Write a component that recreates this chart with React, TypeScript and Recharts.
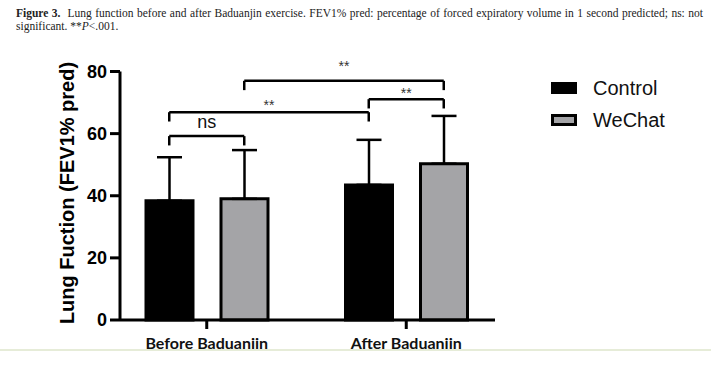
import { BarChart, Bar, XAxis, YAxis, ErrorBar, ReferenceLine, ReferenceDot, Legend } from "recharts";

const GROUPS = ["Before Baduanjin", "After Baduanjin"];
const SERIES = ["Control", "WeChat"];
const CONTROL_MEAN = [38.4, 43.5];
const CONTROL_SD = [14.0, 14.5];
const WECHAT_MEAN = [39.0, 50.3];
const WECHAT_SD = [15.7, 15.4];
const Y_TICKS = [0, 20, 40, 60, 80];

// significance brackets: [group, series] at each end, bracket level, label level
const BRACKET_FROM = [[0, 0], [0, 0], [1, 0], [0, 1]];
const BRACKET_TO = [[0, 1], [1, 0], [1, 1], [1, 1]];
const BRACKET_Y = [59.2, 66.9, 71.1, 77.0];
const BRACKET_LABEL = ["ns", "**", "**", "**"];
const BRACKET_LABEL_Y = [63.8, 69.3, 73.1, 81.7];
const LEG_DROP = 3;

const COLORS = ["#000000", "#a4a4a7"];

const W = 711;
const H = 349;
const BAR_SIZE = 47;
const BAR_GAP = 28;
const PAD = { left: -13, right: -11 };
const PLOT_LEFT = 120;
const PLOT_RIGHT = 495;
const BAND = (PLOT_RIGHT - PLOT_LEFT - PAD.left - PAD.right) / GROUPS.length;
// bar centre offset from the group centre, as a share of one group band
const BAR_OFFSET = (BAR_SIZE + BAR_GAP) / 2 / BAND;

const data = GROUPS.map((g, i) => ({
  group: g,
  control: CONTROL_MEAN[i],
  controlErr: [0, CONTROL_SD[i]],
  wechat: WECHAT_MEAN[i],
  wechatErr: [0, WECHAT_SD[i]],
}));

// position on the helper axis, which runs 0..1 across all groups
const barX = ([g, s]: number[]) => (g + 0.5 + (s === 0 ? -BAR_OFFSET : BAR_OFFSET)) / GROUPS.length;

function LegendBox() {
  return (
    <div style={{ fontFamily: "Liberation Sans, Arial, sans-serif", fontSize: 20, color: "#111" }}>
      {SERIES.map((name, i) => (
        <div key={name} style={{ display: "flex", alignItems: "center", height: 32 }}>
          <div
            style={{
              width: i === 0 ? 26 : 20,
              height: i === 0 ? 12 : 6,
              background: COLORS[i],
              border: i === 0 ? "none" : "3px solid #000",
              marginRight: 16,
            }}
          />
          <span>{name}</span>
        </div>
      ))}
    </div>
  );
}

export default function App() {
  return (
    <div style={{ position: "absolute", left: 0, top: 0, width: W, height: 366, background: "#fff" }}>
      <div
        style={{
          position: "absolute",
          left: 16,
          top: 7,
          width: 687,
          fontFamily: "Liberation Serif, Times New Roman, serif",
          fontSize: 11.5,
          lineHeight: "13px",
          color: "#222",
        }}
      >
        <div style={{ textAlign: "justify", textAlignLast: "justify" }}>
          <b>Figure 3.</b>&nbsp; Lung function before and after Baduanjin exercise. FEV1% pred: percentage of forced
          expiratory volume in 1 second predicted; ns: not
        </div>
        <div>
          significant. **<i>P</i>&lt;.001.
        </div>
      </div>

      <div style={{ position: "absolute", left: 0, top: 0, width: W, height: H, overflow: "hidden" }}>
        <BarChart
          width={W}
          height={H}
          data={data}
          margin={{ top: 71.5, right: W - PLOT_RIGHT, bottom: 0, left: 0 }}
          barSize={BAR_SIZE}
          barGap={BAR_GAP}
        >
          <XAxis
            dataKey="group"
            padding={PAD}
            height={29}
            tickSize={9}
            tickMargin={9}
            axisLine={{ stroke: "#000", strokeWidth: 3 }}
            tickLine={{ stroke: "#000", strokeWidth: 3 }}
            tick={{ fill: "#111", fontSize: 16, fontWeight: 700, fontFamily: "Lato, sans-serif" }}
          />
          <XAxis xAxisId="n" type="number" domain={[0, 1]} padding={PAD} hide allowDataOverflow />
          <YAxis
            width={PLOT_LEFT}
            domain={[0, 80]}
            ticks={Y_TICKS}
            tickSize={10}
            tickMargin={3}
            axisLine={{ stroke: "#000", strokeWidth: 3 }}
            tickLine={{ stroke: "#000", strokeWidth: 3 }}
            tick={{ fill: "#000", fontSize: 18, fontWeight: 700, fontFamily: "Liberation Sans, Arial, sans-serif" }}
            label={{
              content: () => (
                <text
                  x={67}
                  y={193}
                  transform="rotate(-90 67 193)"
                  textAnchor="middle"
                  dominantBaseline="central"
                  fontSize={20}
                  fontWeight={700}
                  fontFamily="Liberation Sans, Arial, sans-serif"
                  fill="#000"
                >
                  Lung Fuction (FEV1% pred)
                </text>
              ),
            }}
          />
          <Bar dataKey="control" name={SERIES[0]} fill={COLORS[0]} stroke="#000" strokeWidth={3} isAnimationActive={false}>
            <ErrorBar dataKey="controlErr" direction="y" width={12.5} stroke="#000" strokeWidth={2.5} isAnimationActive={false} />
          </Bar>
          <Bar dataKey="wechat" name={SERIES[1]} fill={COLORS[1]} stroke="#000" strokeWidth={3} isAnimationActive={false}>
            <ErrorBar dataKey="wechatErr" direction="y" width={12.5} stroke="#000" strokeWidth={2.5} isAnimationActive={false} />
          </Bar>

          {BRACKET_Y.map((y, i) => {
            const x1 = barX(BRACKET_FROM[i]);
            const x2 = barX(BRACKET_TO[i]);
            const common = { xAxisId: "n", stroke: "#000", strokeWidth: 2.5, ifOverflow: "visible" as const };
            return [
              <ReferenceLine key={`h${i}`} {...common} segment={[{ x: x1, y }, { x: x2, y }]} />,
              <ReferenceLine key={`l${i}`} {...common} segment={[{ x: x1, y }, { x: x1, y: y - LEG_DROP }]} />,
              <ReferenceLine key={`r${i}`} {...common} segment={[{ x: x2, y }, { x: x2, y: y - LEG_DROP }]} />,
              <ReferenceDot
                key={`t${i}`}
                xAxisId="n"
                x={(x1 + x2) / 2}
                y={BRACKET_LABEL_Y[i]}
                r={0}
                fill="none"
                stroke="none"
                ifOverflow="visible"
                label={{
                  value: BRACKET_LABEL[i],
                  position: "center",
                  fill: BRACKET_LABEL[i] === "ns" ? "#111" : "#333",
                  fontSize: BRACKET_LABEL[i] === "ns" ? 18 : 14,
                  fontFamily: "Liberation Sans, Arial, sans-serif",
                }}
              />,
            ];
          })}

          <Legend
            layout="vertical"
            align="center"
            verticalAlign="middle"
            content={() => <LegendBox />}
            wrapperStyle={{ left: 551, top: 72, width: 150 }}
          />
        </BarChart>
      </div>
      <div style={{ position: "absolute", left: 0, top: 349, width: W, height: 2, background: "#e6ecd8" }} />
    </div>
  );
}
